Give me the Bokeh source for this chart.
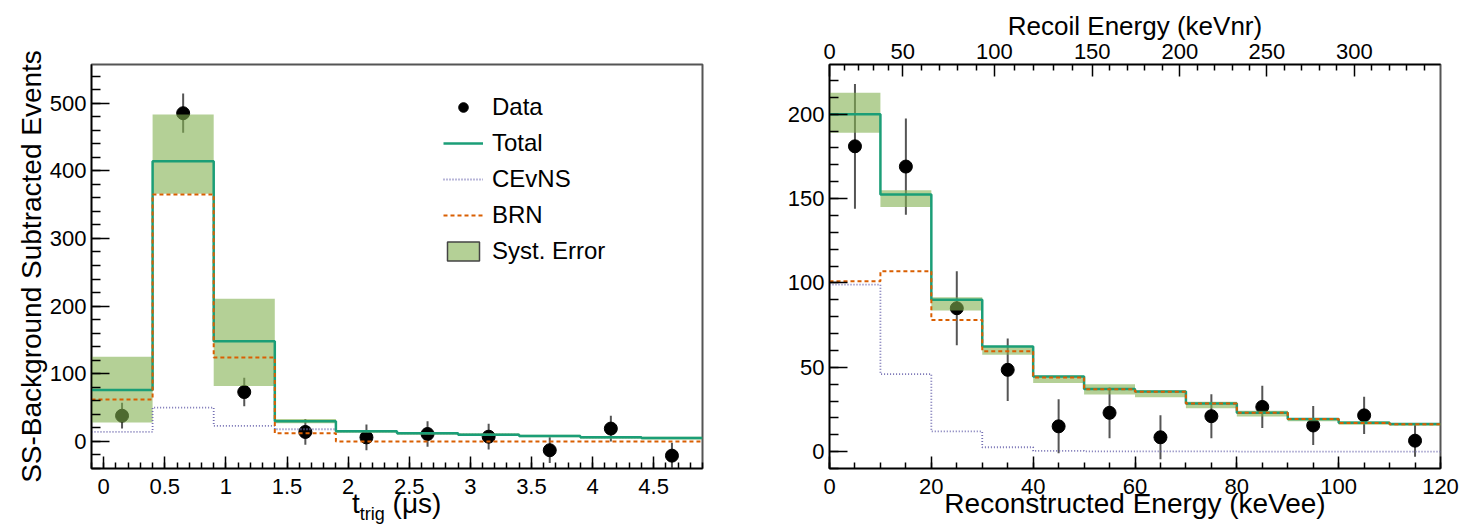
import numpy as np
from bokeh.plotting import figure
from bokeh.layouts import row, column
from bokeh.models import (SingleIntervalTicker, FixedTicker, LinearAxis, Range1d,
                          Legend, LegendItem, NumeralTickFormatter, Div)
from bokeh.embed import file_html
from bokeh.resources import INLINE

# ---------------- data: left panel (t_trig) ----------------
t_edges = [-0.1, 0.4, 0.9, 1.4, 1.9, 2.4, 2.9, 3.4, 3.9, 4.4, 4.9]
t_centers = [0.15, 0.65, 1.15, 1.65, 2.15, 2.65, 3.15, 3.65, 4.15, 4.65]
t_data = [38, 485, 73, 14, 6, 11, 7, -13, 19, -21]
t_err = [19, 29, 21, 19, 19, 19, 19, 19, 19, 19]
t_total = [76, 414, 148, 30, 15, 12, 10, 8, 6, 5]
t_cevns = [14, 50, 23, 18, 15, 12, 10, 8, 6, 5]
t_brn = [62, 365, 124, 12, 0, 0, 0, 0, 0, 0]
t_sys_lo = [28, 366, 82, 27, 13, 10, 8, 6, 4, 3]
t_sys_hi = [125, 483, 211, 33, 17, 14, 12, 10, 8, 7]

# ---------------- data: right panel (energy) ----------------
e_edges = [0, 10, 20, 30, 40, 50, 60, 70, 80, 90, 100, 110, 120]
e_centers = [5, 15, 25, 35, 45, 55, 65, 75, 85, 95, 105, 115]
e_data = [181, 169, 85, 48.5, 15, 23, 8.5, 21, 26.5, 15.5, 21.5, 6.5]
e_err = [37, 28.5, 22, 18.5, 16, 15, 13, 13, 12.5, 11.5, 11, 9.5]
e_total = [200, 152.5, 90, 62.3, 44.5, 37.2, 35.6, 28.6, 23.1, 19.4, 17.1, 16.4]
e_cevns = [99, 46, 12, 2.6, 0.4, 0.2, 0.1, 0.1, 0, 0, 0, 0]
e_brn = [101, 107, 78, 59.5, 44, 37, 35.5, 28.5, 23, 19.3, 17, 16.3]
e_sys_lo = [189, 145, 83.6, 57.5, 40.7, 33.8, 32.2, 25.7, 20.8, 18, 16, 15.4]
e_sys_hi = [212.7, 155, 91.5, 62.5, 45, 40, 36.2, 29.6, 24.3, 20, 18, 17]

# top axis: recoil energy (keVnr) labels and their reconstructed-energy positions (keVee)
recoil_labels = [0, 50, 100, 150, 200, 250, 300]
recoil_pos = [0, 14.4, 32.4, 51.6, 68.8, 85.9, 103.1]

# ---------------- styles ----------------
FONT = "Liberation Sans"
C_TOTAL = "#1b9e77"
C_CEVNS = "#7570b3"
C_BRN = "#d95f02"
C_BAND = "#82b150"
BAND_ALPHA = 0.6


def style_axis(ax, major_len, minor_len):
    ax.major_tick_in = major_len
    ax.major_tick_out = 0
    ax.minor_tick_in = minor_len
    ax.minor_tick_out = 0
    ax.axis_line_color = "black"
    ax.axis_line_width = 1.5
    ax.major_tick_line_color = "black"
    ax.major_tick_line_width = 1.5
    ax.minor_tick_line_color = "black"
    ax.minor_tick_line_width = 1.5
    ax.major_label_text_font = FONT
    ax.major_label_text_font_size = "22px"
    ax.major_label_text_color = "black"
    ax.axis_label_text_font = FONT
    ax.axis_label_text_font_style = "normal"
    ax.axis_label_text_color = "black"


def steps(p, edges, vals, **kw):
    xs = list(edges)
    ys = list(vals) + [vals[-1]]
    return p.step(x=xs, y=ys, mode="after", **kw)


def draw_panel(p, edges, centers, data, err, total, cevns, brn, lo, hi):
    lows = [d - e for d, e in zip(data, err)]
    highs = [d + e for d, e in zip(data, err)]
    p.segment(x0=centers, y0=lows, x1=centers, y1=highs, line_color="#555555", line_width=2)
    r_data = p.scatter(x=centers, y=data, size=13, marker="circle", fill_color="black", line_color="black")
    p.quad(left=edges[:-1], right=edges[1:], bottom=lo, top=hi,
           fill_color=C_BAND, fill_alpha=BAND_ALPHA, line_alpha=0)
    r_cevns = steps(p, edges, cevns, line_color=C_CEVNS, line_width=1.8, line_dash="1 2")
    r_total = steps(p, edges, total, line_color=C_TOTAL, line_width=2.5)
    r_brn = steps(p, edges, brn, line_color=C_BRN, line_width=2, line_dash="4 3")
    return r_data, r_total, r_cevns, r_brn


def base_fig(width, x_range, y_range, bl, br):
    p = figure(width=width, height=524, x_range=x_range, y_range=y_range,
               output_backend="svg", toolbar_location=None,
               min_border_left=bl, min_border_right=br, min_border_top=64, min_border_bottom=56)
    p.xgrid.visible = False
    p.ygrid.visible = False
    p.outline_line_color = "#555555"
    p.outline_line_width = 2
    p.background_fill_color = "white"
    p.border_fill_color = "white"
    return p


# ---------------- left panel ----------------
p1 = base_fig(740, Range1d(-0.1, 4.9), Range1d(-40, 557), 91, 38)
p1.xaxis.ticker = SingleIntervalTicker(interval=0.5, num_minor_ticks=5)
p1.xaxis.formatter = NumeralTickFormatter(format="0.[0]")
p1.yaxis.ticker = SingleIntervalTicker(interval=100, num_minor_ticks=5)
style_axis(p1.xaxis[0], 12, 6)
style_axis(p1.yaxis[0], 18, 9)
p1.xaxis.major_label_standoff = 10
p1.yaxis.major_label_standoff = 5
p1.yaxis.axis_label = "SS-Background Subtracted Events"
p1.yaxis.axis_label_text_font_size = "28px"
p1.yaxis.axis_label_standoff = 0

r_data, r_total, r_cevns, r_brn = draw_panel(p1, t_edges, t_centers, t_data, t_err,
                                              t_total, t_cevns, t_brn, t_sys_lo, t_sys_hi)
# hidden proxy of the band, used only for its legend box
r_sys = p1.quad(left=t_edges[:-1], right=t_edges[1:], bottom=t_sys_lo, top=t_sys_hi,
                fill_color=C_BAND, fill_alpha=BAND_ALPHA, line_color="#444444", line_width=1.5,
                visible=False)

legend = Legend(items=[
    LegendItem(label="Data", renderers=[r_data]),
    LegendItem(label="Total", renderers=[r_total]),
    LegendItem(label="CEvNS", renderers=[r_cevns]),
    LegendItem(label="BRN", renderers=[r_brn]),
    LegendItem(label="Syst. Error", renderers=[r_sys]),
], location=(352, 203))
legend.label_text_font = FONT
legend.label_text_font_size = "24px"
legend.label_text_color = "black"
legend.glyph_width = 40
legend.glyph_height = 24
legend.label_standoff = 9
legend.spacing = 8
legend.padding = 0
legend.margin = 0
legend.border_line_alpha = 0
legend.background_fill_alpha = 0
legend.inactive_fill_alpha = 0
legend.click_policy = "none"
p1.add_layout(legend, "center")

# ---------------- right panel ----------------
p2 = base_fig(720, Range1d(0, 120), Range1d(-10, 229.5), 89, 20)
p2.xaxis.ticker = SingleIntervalTicker(interval=20, num_minor_ticks=4)
p2.yaxis.ticker = SingleIntervalTicker(interval=50, num_minor_ticks=5)
style_axis(p2.xaxis[0], 12, 6)
style_axis(p2.yaxis[0], 18, 9)
p2.xaxis.major_label_standoff = 10
p2.yaxis.major_label_standoff = 5
p2.xaxis.axis_label = "Reconstructed Energy (keVee)"
p2.xaxis.axis_label_text_font_size = "28px"
p2.xaxis.axis_label_standoff = -9

draw_panel(p2, e_edges, e_centers, e_data, e_err, e_total, e_cevns, e_brn, e_sys_lo, e_sys_hi)

slope = (recoil_pos[-1] - recoil_pos[-2]) / (recoil_labels[-1] - recoil_labels[-2])
minor_nr = [v for v in range(10, 350, 10) if v % 50 != 0]
minor_pos = [float(np.interp(v, recoil_labels, recoil_pos)) if v <= recoil_labels[-1]
             else recoil_pos[-1] + slope * (v - recoil_labels[-1]) for v in minor_nr]
top_ax = LinearAxis(ticker=FixedTicker(ticks=recoil_pos, minor_ticks=minor_pos),
                    major_label_overrides={pos: str(lab) for pos, lab in zip(recoil_pos, recoil_labels)})
style_axis(top_ax, 12, 6)
top_ax.major_label_standoff = 6
top_ax.axis_label = "Recoil Energy (keVnr)"
top_ax.axis_label_text_font_size = "26px"
top_ax.axis_label_standoff = 0
p2.add_layout(top_ax, "above")

# x-axis title of the left panel, with subscript: t_trig (μs)
xtitle = Div(
    text=('<span style="font-family:\'Liberation Sans\';font-size:28px;color:black;white-space:nowrap;">'
          't<sub style="font-size:18px;vertical-align:-7px;">trig</sub> (μs)</span>'),
    styles={"position": "absolute", "left": "352px", "top": "488px", "z-index": "10",
            "line-height": "normal"},
    margin=(0, 0, 0, 0))

layout = column(row(p1, p2), xtitle)
open("out.html", "w").write(file_html(layout, INLINE))
